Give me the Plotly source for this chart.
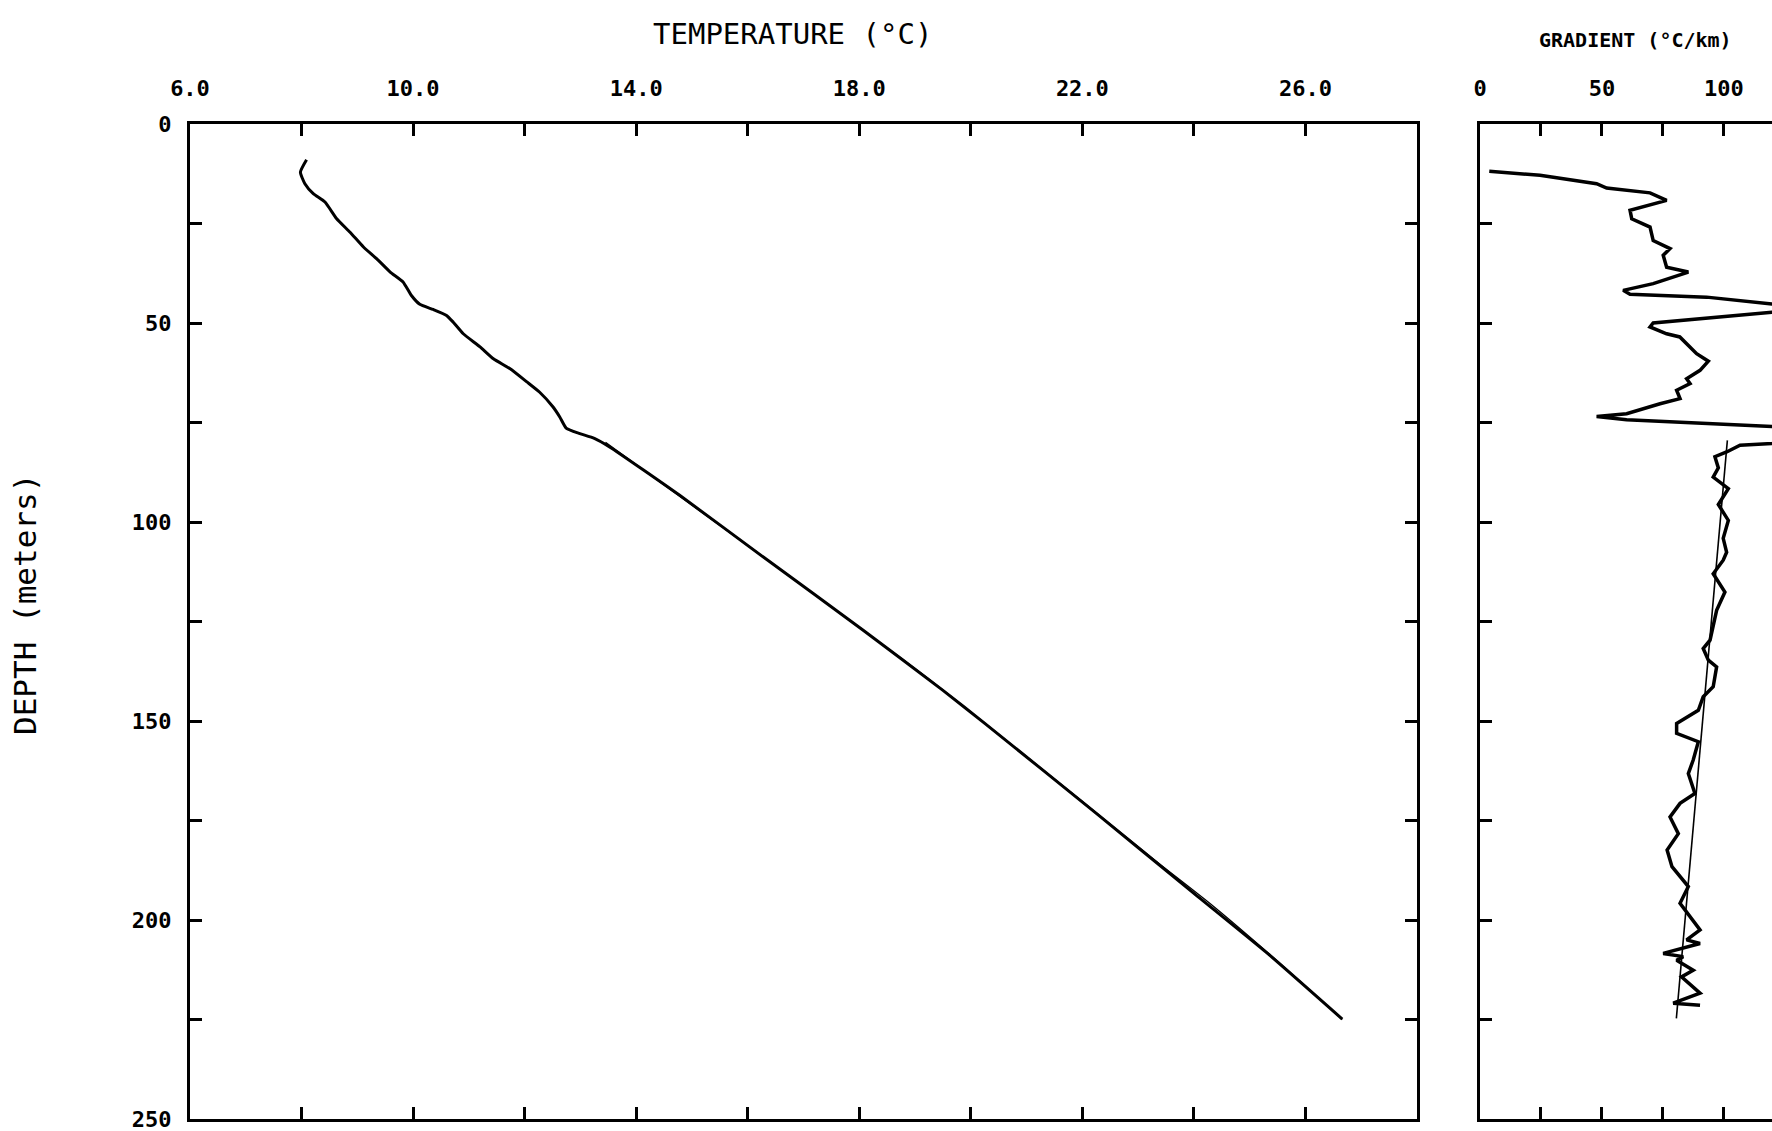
import plotly.graph_objects as go

# ---- Temperature profile (measured) ----
temp_depth = [9.0, 12.1, 15.0, 17.5, 19.6, 23.8, 27.2, 30.9, 33.9, 37.2, 39.7, 43.1, 45.3,
              46.6, 48.1, 49.8, 52.7, 56.0, 59.0, 61.5, 64.8, 67.4, 71.1, 73.6, 76.5, 77.8,
              79.0, 81.2, 93.3, 108.8, 127.2, 142.3, 150.6, 173.2, 193.3, 208.4, 224.9]
temp_value = [8.09, 7.98, 8.06, 8.21, 8.42, 8.63, 8.87, 9.11, 9.35, 9.59, 9.82, 9.97, 10.12,
              10.36, 10.60, 10.72, 10.90, 11.20, 11.44, 11.74, 12.04, 12.27, 12.51, 12.63, 12.75,
              12.99, 13.25, 13.53, 14.78, 16.28, 18.07, 19.50, 20.25, 22.25, 24.00, 25.32, 26.66]

# ---- Temperature model (thin line) ----
fit_depth = [80, 110, 140, 170, 185, 196, 210, 225]
fit_temp = [13.45, 16.40, 19.30, 21.98, 23.30, 24.30, 25.47, 26.66]

# ---- Gradient (measured) ----
grad_depth = [11.9, 12.9, 15.0, 16.1, 17.3, 19.2, 21.7, 23.8, 25.9, 29.3, 31.3, 33.0, 36.0,
              37.2, 40.1, 41.8, 42.8, 43.5, 45.2, 46.2, 47.3, 50.0, 51.0, 52.7, 53.5, 57.7,
              59.6, 61.9, 64.0, 65.2, 66.9, 69.0, 70.3, 72.8, 73.5, 74.3, 76.0, 78.0, 80.3,
              80.7, 82.4, 83.6, 86.4, 88.7, 91.6, 95.6, 99.6, 104.1, 107.6, 109.6, 113.0,
              117.6, 122.2, 126.4, 129.7, 131.8, 134.7, 136.4, 141.4, 143.9, 147.3, 150.6,
              153.1, 155.2, 159.8, 163.2, 168.2, 170.7, 174.1, 178.3, 182.4, 186.6, 191.6,
              195.8, 202.5, 205.0, 205.9, 208.4, 209.2, 210.1, 212.6, 214.3, 218.4, 220.9, 221.4]
grad_value = [3.8, 24.6, 47.8, 51.9, 69.7, 76.5, 61.5, 62.2, 69.7, 71.0, 77.9, 75.1, 76.5,
              85.4, 71.0, 58.7, 61.5, 92.9, 119.7, 138.0, 119.7, 71.0, 69.7, 76.5, 81.9, 88.8,
              93.6, 90.2, 84.7, 86.1, 80.6, 82.0, 73.8, 60.1, 47.8, 60.1, 119.7, 150.0, 119.7,
              106.6, 101.1, 96.3, 97.7, 95.6, 101.8, 97.7, 101.8, 99.7, 101.1, 99.7, 95.6,
              100.4, 97.0, 95.6, 94.3, 91.5, 93.6, 97.0, 95.6, 91.5, 89.5, 80.6,
              80.6, 89.5, 87.4, 85.4, 88.1, 82.0, 77.9, 81.3, 76.7, 78.7, 85.4,
              82.0, 90.2, 84.7, 90.2, 75.1, 83.3, 80.6, 87.4, 82.6, 90.2, 79.2, 90.2]

# ---- Gradient linear fit (thin line) ----
gfit_depth = [79.5, 224.7]
gfit_value = [101.4, 80.5]

W, H = 1772, 1131
ML, MR, MT, MB = 190, 0, 124, 12
PW = W - ML - MR
PH = H - MT - MB

def px_x(p):
    return (p - ML) / PW

def px_y(p):
    return (H - MB - p) / PH

tickfont = dict(family="DejaVu Sans Mono", size=22, color="black", weight="bold")

fig = go.Figure()
fig.add_trace(go.Scatter(x=temp_value, y=temp_depth, mode="lines",
                         line=dict(color="black", width=3, shape="spline", smoothing=0.5),
                         xaxis="x", yaxis="y", showlegend=False))
fig.add_trace(go.Scatter(x=fit_temp, y=fit_depth, mode="lines",
                         line=dict(color="black", width=1.3, shape="spline", smoothing=0.6),
                         xaxis="x", yaxis="y", showlegend=False))
fig.add_trace(go.Scatter(x=grad_value, y=grad_depth, mode="lines",
                         line=dict(color="black", width=3.5),
                         xaxis="x2", yaxis="y2", showlegend=False))
fig.add_trace(go.Scatter(x=gfit_value, y=gfit_depth, mode="lines",
                         line=dict(color="black", width=1.6),
                         xaxis="x2", yaxis="y2", showlegend=False))

common = dict(showgrid=False, zeroline=False, showline=True, linecolor="black", linewidth=3,
              ticks="inside", ticklen=12, tickwidth=3, tickcolor="black", tickfont=tickfont,
              ticklabeloverflow="allow")

left_end = px_x(1417)
right_start = px_x(1480)

fig.update_layout(
    width=W, height=H, autosize=False,
    margin=dict(l=ML, r=MR, t=MT, b=MB, pad=0),
    paper_bgcolor="white", plot_bgcolor="white",
    xaxis=dict(domain=[0, left_end], range=[6, 28], side="top", anchor="y",
               tick0=6, dtick=4, tickformat=".1f", mirror="ticks",
               minor=dict(tick0=6, dtick=2, ticks="inside", ticklen=12, tickwidth=3, tickcolor="black"),
               ticklabelstandoff=16, **common),
    yaxis=dict(domain=[0, 1], range=[250, 0], anchor="x", tick0=0, dtick=50, mirror="ticks",
               minor=dict(tick0=0, dtick=25, ticks="inside", ticklen=12, tickwidth=3, tickcolor="black"),
               ticklabelstandoff=11, **common),
    xaxis2=dict(domain=[right_start, 1], range=[0, 119.7], side="top", anchor="y2",
                tick0=0, dtick=50, mirror="ticks",
                minor=dict(tick0=0, dtick=25, ticks="inside", ticklen=12, tickwidth=3, tickcolor="black"),
                ticklabelstandoff=16, **common),
    yaxis2=dict(domain=[0, 1], range=[250, 0], anchor="x2", tick0=0, dtick=50, mirror=False,
                showticklabels=False,
                minor=dict(tick0=0, dtick=25, ticks="inside", ticklen=12, tickwidth=3, tickcolor="black"),
                **common),
    annotations=[
        dict(text="TEMPERATURE (°C)", x=px_x(792), y=px_y(34), xref="paper", yref="paper",
             showarrow=False, xanchor="center", yanchor="middle",
             font=dict(family="DejaVu Sans Mono", size=29, color="black")),
        dict(text="GRADIENT (°C/km)", x=px_x(1635), y=px_y(40), xref="paper", yref="paper",
             showarrow=False, xanchor="center", yanchor="middle",
             font=dict(family="DejaVu Sans Mono", size=20, color="black", weight="bold")),
        dict(text="DEPTH (meters)", x=px_x(25), y=px_y(605), xref="paper", yref="paper",
             showarrow=False, xanchor="center", yanchor="middle", textangle=-90,
             font=dict(family="DejaVu Sans Mono", size=31, color="black")),
    ],
)

fig.write_html("out.html")
